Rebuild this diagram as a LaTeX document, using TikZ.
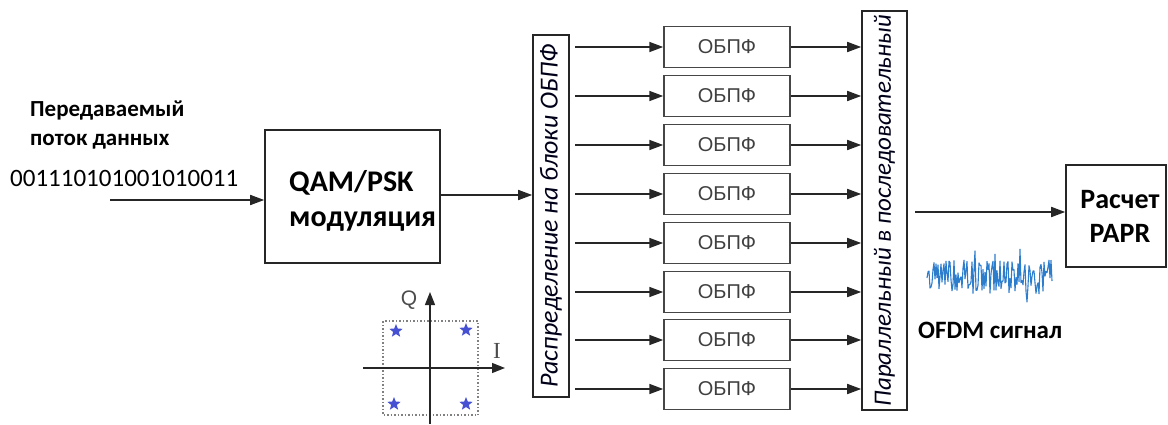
\documentclass[tikz,border=0pt]{standalone}
\usepackage{fontspec}
\setmainfont{Carlito}
\newfontfamily\arialf{Liberation Sans}
\newfontfamily\timesf{Liberation Serif}
\usetikzlibrary{arrows.meta,shapes.geometric}
\definecolor{sigblue}{RGB}{45,125,205}
\definecolor{starblue}{RGB}{70,80,210}
\definecolor{boxgray}{RGB}{70,70,70}
\tikzset{
  arr/.style={line width=1.7pt,draw=black!85,-{Triangle[length=14pt,width=10pt]}},
  blk/.style={draw=black!85,line width=1.6pt,inner sep=0pt},
  fftbox/.style={draw=boxgray,line width=1.5pt,minimum width=126pt,minimum height=41pt,inner sep=0pt,font=\arialf\fontsize{20}{22}\selectfont,text=black!75},
  sterne/.style={star,star points=5,star point ratio=2.3,fill=starblue,minimum size=14pt,inner sep=0pt},
}
\begin{document}
\begin{tikzpicture}[x=1pt,y=-1pt]
\useasboundingbox (0,0) rectangle (1168,425);
% input text
\node[anchor=base west,inner sep=0pt,font=\bfseries\fontsize{23}{26}\selectfont] (t1) at (30,117) {Передаваемый};
\node[anchor=base west,inner sep=0pt,font=\bfseries\fontsize{23}{26}\selectfont] (t2) at (30,146) {поток данных};
\node[anchor=base west,inner sep=0pt,font=\fontsize{25}{28}\selectfont] (bits) at (10,186) {001110101001010011};
\coordinate (in) at (110,200);
% QAM box
\node[blk,minimum width=175pt,minimum height=133pt] (qam) at (352.5,196.5) {};
\node[font=\bfseries\fontsize{30}{35}\selectfont,align=left,anchor=west,inner sep=0pt] (qamt) at (289,201) {QAM/PSK\\модуляция};
\draw[arr] (in) -- (in -| qam.west);
% distribution box
\node[blk,minimum width=36pt,minimum height=362pt] (dist) at (551,216) {};
\node[rotate=90,font=\itshape\fontsize{26}{28}\selectfont,text=black!90!blue] (distt) at (dist.center) {Распределение на блоки ОБПФ};
\draw[arr] (qam.east |- 0,195) -- (dist.west |- 0,195);
% parallel-to-serial
\node[blk,minimum width=45pt,minimum height=399pt] (par) at (884.5,210.5) {};
\node[rotate=90,font=\itshape\fontsize{25}{27}\selectfont,text=black!90!blue] (part) at (par.center) {Параллельный в последовательный};
% IFFT boxes
\foreach \i/\y in {1/47,2/96,3/145,4/194,5/243,6/292,7/340,8/389}{
  \node[fftbox] (f\i) at (727,\y) {ОБПФ};
  \coordinate (s\i) at (575,\y);
  \draw[arr] (s\i) -- (f\i.west);
  \draw[arr] (f\i.east) -- (f\i.east -| par.west);
}
% PAPR box
\node[blk,minimum width=100pt,minimum height=102pt] (papr) at (1116,216) {};
\node[font=\bfseries\fontsize{28}{34}\selectfont,align=center] (paprt) at (1120,216) {Расчет\\PAPR};
\coordinate (o1) at (915,212);
\draw[arr] (o1) -- (o1 -| papr.west);
% OFDM signal
\pgfmathsetseed{11}
\draw[sigblue,line width=1.1pt,line join=round]
  (927,278)
  \foreach \k in {1,...,125}{ -- ({927+\k*1.0},{277+ rand*17 + (rand>0.6 ? 1 : 0)*rand*14}) };
\node[font=\bfseries\fontsize{25}{28}\selectfont,anchor=base west,inner sep=0pt] (ofdm) at (918,338) {OFDM сигнал};
% constellation
\draw[gray,dotted,line width=1.5pt] (383,321) rectangle (478,415);
\coordinate (xl) at (363,368);
\coordinate (xr) at (505,368);
\coordinate (yb) at (430,424);
\coordinate (yt) at (430,292);
\draw[line width=1.4pt,black!85,-{Triangle[length=13pt,width=10pt]}] (xl) -- (xr);
\draw[line width=1.4pt,black!85,-{Triangle[length=13pt,width=10pt]}] (yb) -- (yt);
\node[font=\arialf\fontsize{21}{22}\selectfont,text=black!70] (Q) at (409,300) {Q};
\node[font=\timesf\fontsize{23}{24}\selectfont,text=black!70] (I) at (497,351) {I};
\node[sterne] (st1) at (396,331) {};
\node[sterne] (st2) at (466,330) {};
\node[sterne] (st3) at (394,404) {};
\node[sterne] (st4) at (466,404) {};
\end{tikzpicture}
\end{document}
